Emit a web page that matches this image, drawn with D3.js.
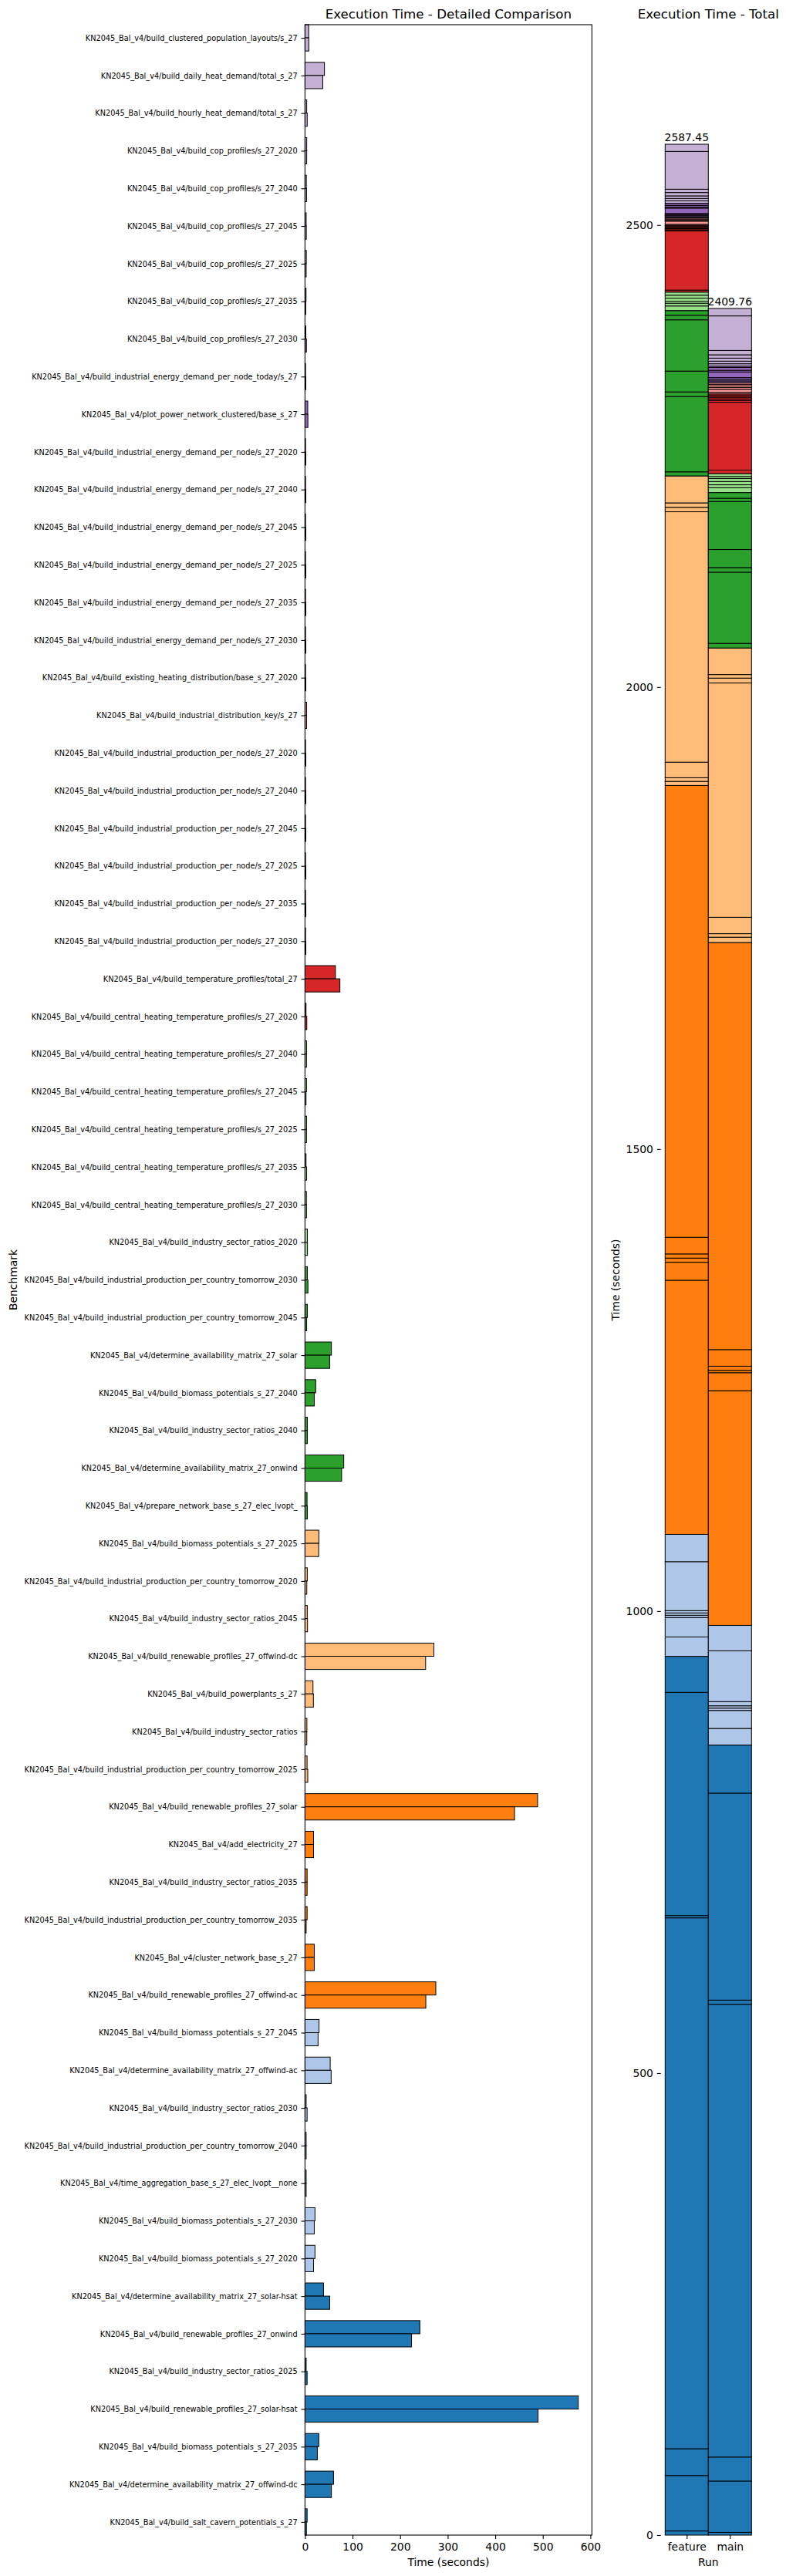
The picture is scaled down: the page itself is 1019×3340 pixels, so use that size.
<!DOCTYPE html>
<html><head><meta charset="utf-8">
<script src="https://cdn.jsdelivr.net/npm/d3@7"></script>
<style>
body{margin:0;background:#fff;}
text{font-family:"DejaVu Sans",sans-serif;fill:#000;}
</style></head><body>
<svg id="chart" width="1019" height="3340"></svg>
<script>
// categories listed from bottom (index 0) to top
const categories = [
"KN2045_Bal_v4/build_salt_cavern_potentials_s_27",
"KN2045_Bal_v4/determine_availability_matrix_27_offwind-dc",
"KN2045_Bal_v4/build_biomass_potentials_s_27_2035",
"KN2045_Bal_v4/build_renewable_profiles_27_solar-hsat",
"KN2045_Bal_v4/build_industry_sector_ratios_2025",
"KN2045_Bal_v4/build_renewable_profiles_27_onwind",
"KN2045_Bal_v4/determine_availability_matrix_27_solar-hsat",
"KN2045_Bal_v4/build_biomass_potentials_s_27_2020",
"KN2045_Bal_v4/build_biomass_potentials_s_27_2030",
"KN2045_Bal_v4/time_aggregation_base_s_27_elec_lvopt__none",
"KN2045_Bal_v4/build_industrial_production_per_country_tomorrow_2040",
"KN2045_Bal_v4/build_industry_sector_ratios_2030",
"KN2045_Bal_v4/determine_availability_matrix_27_offwind-ac",
"KN2045_Bal_v4/build_biomass_potentials_s_27_2045",
"KN2045_Bal_v4/build_renewable_profiles_27_offwind-ac",
"KN2045_Bal_v4/cluster_network_base_s_27",
"KN2045_Bal_v4/build_industrial_production_per_country_tomorrow_2035",
"KN2045_Bal_v4/build_industry_sector_ratios_2035",
"KN2045_Bal_v4/add_electricity_27",
"KN2045_Bal_v4/build_renewable_profiles_27_solar",
"KN2045_Bal_v4/build_industrial_production_per_country_tomorrow_2025",
"KN2045_Bal_v4/build_industry_sector_ratios",
"KN2045_Bal_v4/build_powerplants_s_27",
"KN2045_Bal_v4/build_renewable_profiles_27_offwind-dc",
"KN2045_Bal_v4/build_industry_sector_ratios_2045",
"KN2045_Bal_v4/build_industrial_production_per_country_tomorrow_2020",
"KN2045_Bal_v4/build_biomass_potentials_s_27_2025",
"KN2045_Bal_v4/prepare_network_base_s_27_elec_lvopt_",
"KN2045_Bal_v4/determine_availability_matrix_27_onwind",
"KN2045_Bal_v4/build_industry_sector_ratios_2040",
"KN2045_Bal_v4/build_biomass_potentials_s_27_2040",
"KN2045_Bal_v4/determine_availability_matrix_27_solar",
"KN2045_Bal_v4/build_industrial_production_per_country_tomorrow_2045",
"KN2045_Bal_v4/build_industrial_production_per_country_tomorrow_2030",
"KN2045_Bal_v4/build_industry_sector_ratios_2020",
"KN2045_Bal_v4/build_central_heating_temperature_profiles/s_27_2030",
"KN2045_Bal_v4/build_central_heating_temperature_profiles/s_27_2035",
"KN2045_Bal_v4/build_central_heating_temperature_profiles/s_27_2025",
"KN2045_Bal_v4/build_central_heating_temperature_profiles/s_27_2045",
"KN2045_Bal_v4/build_central_heating_temperature_profiles/s_27_2040",
"KN2045_Bal_v4/build_central_heating_temperature_profiles/s_27_2020",
"KN2045_Bal_v4/build_temperature_profiles/total_27",
"KN2045_Bal_v4/build_industrial_production_per_node/s_27_2030",
"KN2045_Bal_v4/build_industrial_production_per_node/s_27_2035",
"KN2045_Bal_v4/build_industrial_production_per_node/s_27_2025",
"KN2045_Bal_v4/build_industrial_production_per_node/s_27_2045",
"KN2045_Bal_v4/build_industrial_production_per_node/s_27_2040",
"KN2045_Bal_v4/build_industrial_production_per_node/s_27_2020",
"KN2045_Bal_v4/build_industrial_distribution_key/s_27",
"KN2045_Bal_v4/build_existing_heating_distribution/base_s_27_2020",
"KN2045_Bal_v4/build_industrial_energy_demand_per_node/s_27_2030",
"KN2045_Bal_v4/build_industrial_energy_demand_per_node/s_27_2035",
"KN2045_Bal_v4/build_industrial_energy_demand_per_node/s_27_2025",
"KN2045_Bal_v4/build_industrial_energy_demand_per_node/s_27_2045",
"KN2045_Bal_v4/build_industrial_energy_demand_per_node/s_27_2040",
"KN2045_Bal_v4/build_industrial_energy_demand_per_node/s_27_2020",
"KN2045_Bal_v4/plot_power_network_clustered/base_s_27",
"KN2045_Bal_v4/build_industrial_energy_demand_per_node_today/s_27",
"KN2045_Bal_v4/build_cop_profiles/s_27_2030",
"KN2045_Bal_v4/build_cop_profiles/s_27_2035",
"KN2045_Bal_v4/build_cop_profiles/s_27_2025",
"KN2045_Bal_v4/build_cop_profiles/s_27_2045",
"KN2045_Bal_v4/build_cop_profiles/s_27_2040",
"KN2045_Bal_v4/build_cop_profiles/s_27_2020",
"KN2045_Bal_v4/build_hourly_heat_demand/total_s_27",
"KN2045_Bal_v4/build_daily_heat_demand/total_s_27",
"KN2045_Bal_v4/build_clustered_population_layouts/s_27"
];

const featureTimes = [
4.5, 60.0, 29.0, 574.5, 2.5, 241.5, 39.0,
21.0, 21.0, 2.5, 2.5, 2.5, 53.0, 29.5,
275.0, 19.5, 4.5, 4.5, 18.0, 489.0,
4.4, 4.0, 16.8, 271.0, 4.8, 4.8, 29.2,
4.4, 81.5, 5.0, 22.5, 55.5, 5.0, 5.0,
5.0, 3.0, 2.2, 3.3, 3.2, 3.3,
2.2, 64.0,
1.2, 1.2, 1.2, 1.2, 1.2, 1.2,
3.3, 1.2,
1.2, 1.2, 1.2, 1.2, 1.2, 1.2,
5.8, 1.2,
1.75, 2.2, 2.8, 2.5, 2.8, 3.6,
3.6, 40.9, 7.8
];

const mainTimes = [
3.0, 55.5, 26.0, 490.0, 4.5, 224.0, 52.0,
18.0, 19.5, 2.5, 2.5, 4.5, 55.0, 27.5,
254.0, 19.5, 2.5, 4.5, 18.0, 440.5,
5.8, 3.8, 17.7, 253.6, 5.3, 3.8, 28.8,
5.0, 77.0, 5.0, 19.5, 52.0, 3.5, 6.2,
5.2, 3.2, 3.5, 3.2, 2.2, 3.2,
3.8, 73.4,
1.8, 1.8, 1.8, 1.8, 1.8, 1.8,
3.3, 1.8,
1.8, 1.8, 1.8, 1.8, 1.8, 1.8,
6.1, 1.8,
3.0, 1.56, 2.5, 2.8, 3.3, 3.6,
4.7, 37.4, 8.1
];

const runs = ["feature", "main"];
const xTicks = [0, 100, 200, 300, 400, 500, 600];
const totalTicks = [0, 500, 1000, 1500, 2000, 2500];
const palette = ["#1f77b4","#aec7e8","#ff7f0e","#ffbb78","#2ca02c","#98df8a","#d62728","#ff9896","#9467bd","#c5b0d5"];

const svg = d3.select("#chart");
svg.append("rect").attr("width", 1019).attr("height", 3340).attr("fill", "#fff");

const n = categories.length;
const colorOf = i => palette[Math.max(0, Math.min(9, Math.floor(i * 10 / (n - 1) - 1e-9)))];

const FS_TICK = 13.9, FS_CAT = 9.72, FS_TITLE = 16.67, TL = 4.9;

// ---------- Left chart ----------
const L = {x0: 395.4, x1: 767.4, y0: 32, y1: 3287};
const barH = 0.35;
const maxVal = d3.max(featureTimes.concat(mainTimes));
const x = d3.scaleLinear().domain([0, maxVal * 1.05]).range([L.x0, L.x1]);
const y = d3.scaleLinear().domain([-barH, n - 1 + barH]).range([L.y1, L.y0]);

const rows = categories.map((c, i) => ({i, c, f: featureTimes[i], m: mainTimes[i]}));
const gBars = svg.append("g");
gBars.selectAll("rect.f").data(rows).join("rect")
  .attr("x", x(0)).attr("y", d => y(d.i + barH))
  .attr("width", d => x(d.f) - x(0)).attr("height", d => y(d.i) - y(d.i + barH))
  .attr("fill", d => colorOf(d.i)).attr("stroke", "#000").attr("stroke-width", 1);
gBars.selectAll("rect.m").data(rows).join("rect")
  .attr("x", x(0)).attr("y", d => y(d.i))
  .attr("width", d => x(d.m) - x(0)).attr("height", d => y(d.i - barH) - y(d.i))
  .attr("fill", d => colorOf(d.i)).attr("stroke", "#000").attr("stroke-width", 1);

const yAx = svg.append("g").attr("transform", `translate(${L.x0},0)`)
  .call(d3.axisLeft(y).tickValues(d3.range(n)).tickFormat(i => categories[i]).tickSize(TL).tickPadding(4.9));
yAx.select(".domain").remove();
yAx.selectAll("text").attr("font-size", FS_CAT).attr("font-family", "DejaVu Sans");
yAx.selectAll("line").attr("stroke-width", 1.1);

const xAx = svg.append("g").attr("transform", `translate(0,${L.y1})`)
  .call(d3.axisBottom(x).tickValues(xTicks).tickSize(TL).tickPadding(4.9));
xAx.select(".domain").remove();
xAx.selectAll("text").attr("font-size", FS_TICK).attr("font-family", "DejaVu Sans");
xAx.selectAll("line").attr("stroke-width", 1.1);

svg.append("rect").attr("x", L.x0).attr("y", L.y0).attr("width", L.x1 - L.x0).attr("height", L.y1 - L.y0)
  .attr("fill", "none").attr("stroke", "#000").attr("stroke-width", 1.1);

svg.append("text").attr("x", (L.x0 + L.x1) / 2).attr("y", 23.7).attr("text-anchor", "middle")
  .attr("font-size", FS_TITLE).text("Execution Time - Detailed Comparison");
svg.append("text").attr("x", (L.x0 + L.x1) / 2).attr("y", 3327).attr("text-anchor", "middle")
  .attr("font-size", FS_TICK).text("Time (seconds)");
svg.append("text").attr("transform", `translate(22,${(L.y0 + L.y1) / 2}) rotate(-90)`).attr("text-anchor", "middle")
  .attr("font-size", FS_TICK).text("Benchmark");

// ---------- Right chart ----------
const R = {x0: 856.7, x1: 979.9, y0: 32, y1: 3287};
const series = [featureTimes, mainTimes];
const totals = series.map(s => d3.sum(s));
const xr = d3.scaleLinear().domain([-0.6, 1.6]).range([R.x0, R.x1]);
const yr = d3.scaleLinear().domain([0, d3.max(totals) * 1.05]).range([R.y1, R.y0]);

const gStack = svg.append("g");
series.forEach((s, ri) => {
  const cum = Array.from(d3.cumsum(s));
  const segs = s.map((v, i) => ({i, lo: i === 0 ? 0 : cum[i - 1], hi: cum[i]}));
  gStack.append("g").selectAll("rect").data(segs).join("rect")
    .attr("x", xr(ri - 0.5)).attr("width", xr(ri + 0.5) - xr(ri - 0.5))
    .attr("y", d => yr(d.hi)).attr("height", d => yr(d.lo) - yr(d.hi))
    .attr("fill", d => colorOf(d.i)).attr("stroke", "#000").attr("stroke-width", 1);
  svg.append("text").attr("x", xr(ri)).attr("y", yr(totals[ri]) - 4).attr("text-anchor", "middle")
    .attr("font-size", FS_TICK).text(d3.format(".2f")(totals[ri]));
});

const yrAx = svg.append("g").attr("transform", `translate(${R.x0},0)`)
  .call(d3.axisLeft(yr).tickValues(totalTicks).tickFormat(d3.format("d")).tickSize(TL).tickPadding(4.9));
yrAx.select(".domain").remove();
yrAx.selectAll("text").attr("font-size", FS_TICK).attr("font-family", "DejaVu Sans");
yrAx.selectAll("line").attr("stroke-width", 1.1);

const xrAx = svg.append("g").attr("transform", `translate(0,${R.y1})`)
  .call(d3.axisBottom(xr).tickValues([0, 1]).tickFormat(i => runs[i]).tickSize(TL).tickPadding(4.9));
xrAx.select(".domain").remove();
xrAx.selectAll("text").attr("font-size", FS_TICK).attr("font-family", "DejaVu Sans");
xrAx.selectAll("line").attr("stroke-width", 1.1);

svg.append("text").attr("x", (R.x0 + R.x1) / 2).attr("y", 23.7).attr("text-anchor", "middle")
  .attr("font-size", FS_TITLE).text("Execution Time - Total");
svg.append("text").attr("x", xr(0.5)).attr("y", 3327).attr("text-anchor", "middle")
  .attr("font-size", FS_TICK).text("Run");
svg.append("text").attr("transform", `translate(803,${(R.y0 + R.y1) / 2}) rotate(-90)`).attr("text-anchor", "middle")
  .attr("font-size", FS_TICK).text("Time (seconds)");
</script>
</body></html>
